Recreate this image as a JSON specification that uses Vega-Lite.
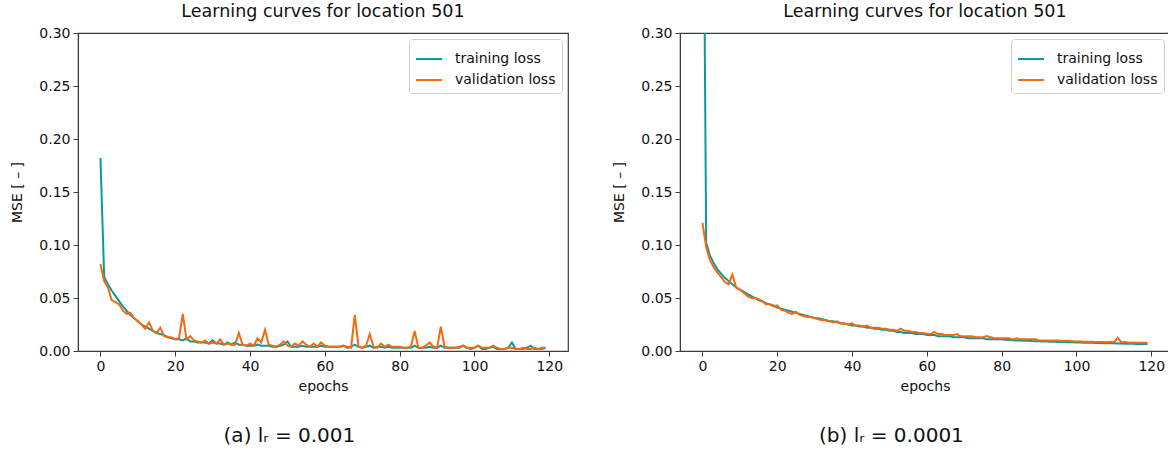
{
  "$schema": "https://vega.github.io/schema/vega-lite/v6.json",
  "background": "white",
  "padding": {"left": 10, "top": 1, "right": 0, "bottom": 0},
  "spacing": 43,
  "config": {
    "font": "DejaVu Sans",
    "view": {"stroke": "#3c3c3c", "strokeWidth": 1.2},
    "axis": {"labelFontSize": 14, "titleFontSize": 14, "titleFontWeight": "normal", "labelColor": "#111", "titleColor": "#111", "domainColor": "#3c3c3c", "tickColor": "#3c3c3c", "grid": false, "tickSize": 5, "labelPadding": 3, "labelFont": "DejaVu Sans", "titleFont": "DejaVu Sans"},
    "title": {"fontSize": 17.5, "fontWeight": "normal", "color": "#111", "font": "DejaVu Sans", "offset": 6},
    "legend": {"padding": 6, "strokeColor": "#d0d0d0", "fillColor": "white", "cornerRadius": 3, "labelFontSize": 14, "labelColor": "#111", "labelFont": "DejaVu Sans", "symbolType": "stroke", "symbolSize": 676, "symbolStrokeWidth": 2, "rowPadding": -4, "labelOffset": 12}
  },
  "datasets": {
    "a": [
      {"e":0,"tr":0.182,"va":0.082},{"e":1,"tr":0.070,"va":0.066},{"e":2,"tr":0.063,"va":0.060},{"e":3,"tr":0.057,"va":0.048},{"e":4,"tr":0.052,"va":0.046},
      {"e":5,"tr":0.047,"va":0.044},{"e":6,"tr":0.042,"va":0.038},{"e":7,"tr":0.038,"va":0.035},{"e":8,"tr":0.034,"va":0.036},{"e":9,"tr":0.031,"va":0.031},
      {"e":10,"tr":0.028,"va":0.028},{"e":11,"tr":0.025,"va":0.025},{"e":12,"tr":0.023,"va":0.021},{"e":13,"tr":0.021,"va":0.027},{"e":14,"tr":0.019,"va":0.019},
      {"e":15,"tr":0.017,"va":0.017},{"e":16,"tr":0.016,"va":0.022},{"e":17,"tr":0.015,"va":0.014},{"e":18,"tr":0.013,"va":0.013},{"e":19,"tr":0.012,"va":0.013},
      {"e":20,"tr":0.011,"va":0.011},{"e":21,"tr":0.011,"va":0.012},{"e":22,"tr":0.010,"va":0.035},{"e":23,"tr":0.012,"va":0.011},{"e":24,"tr":0.009,"va":0.014},
      {"e":25,"tr":0.009,"va":0.010},{"e":26,"tr":0.008,"va":0.009},{"e":27,"tr":0.008,"va":0.008},{"e":28,"tr":0.008,"va":0.010},{"e":29,"tr":0.007,"va":0.007},
      {"e":30,"tr":0.010,"va":0.008},{"e":31,"tr":0.007,"va":0.007},{"e":32,"tr":0.007,"va":0.011},{"e":33,"tr":0.006,"va":0.006},{"e":34,"tr":0.008,"va":0.007},
      {"e":35,"tr":0.006,"va":0.006},{"e":36,"tr":0.008,"va":0.006},{"e":37,"tr":0.006,"va":0.017},{"e":38,"tr":0.006,"va":0.006},{"e":39,"tr":0.005,"va":0.005},
      {"e":40,"tr":0.005,"va":0.007},{"e":41,"tr":0.005,"va":0.005},{"e":42,"tr":0.006,"va":0.012},{"e":43,"tr":0.005,"va":0.008},{"e":44,"tr":0.005,"va":0.020},
      {"e":45,"tr":0.005,"va":0.006},{"e":46,"tr":0.004,"va":0.005},{"e":47,"tr":0.004,"va":0.004},{"e":48,"tr":0.005,"va":0.006},{"e":49,"tr":0.006,"va":0.009},
      {"e":50,"tr":0.009,"va":0.005},{"e":51,"tr":0.004,"va":0.004},{"e":52,"tr":0.004,"va":0.007},{"e":53,"tr":0.004,"va":0.005},{"e":54,"tr":0.005,"va":0.009},
      {"e":55,"tr":0.004,"va":0.006},{"e":56,"tr":0.004,"va":0.004},{"e":57,"tr":0.004,"va":0.007},{"e":58,"tr":0.004,"va":0.004},{"e":59,"tr":0.005,"va":0.008},
      {"e":60,"tr":0.004,"va":0.005},{"e":61,"tr":0.004,"va":0.004},{"e":62,"tr":0.004,"va":0.004},{"e":63,"tr":0.004,"va":0.004},{"e":64,"tr":0.004,"va":0.004},
      {"e":65,"tr":0.005,"va":0.005},{"e":66,"tr":0.003,"va":0.004},{"e":67,"tr":0.004,"va":0.003},{"e":68,"tr":0.006,"va":0.034},{"e":69,"tr":0.004,"va":0.004},
      {"e":70,"tr":0.003,"va":0.003},{"e":71,"tr":0.004,"va":0.005},{"e":72,"tr":0.005,"va":0.016},{"e":73,"tr":0.003,"va":0.004},{"e":74,"tr":0.004,"va":0.003},
      {"e":75,"tr":0.004,"va":0.007},{"e":76,"tr":0.003,"va":0.004},{"e":77,"tr":0.004,"va":0.006},{"e":78,"tr":0.003,"va":0.004},{"e":79,"tr":0.003,"va":0.004},
      {"e":80,"tr":0.003,"va":0.004},{"e":81,"tr":0.003,"va":0.003},{"e":82,"tr":0.003,"va":0.003},{"e":83,"tr":0.003,"va":0.004},{"e":84,"tr":0.005,"va":0.019},
      {"e":85,"tr":0.003,"va":0.003},{"e":86,"tr":0.003,"va":0.003},{"e":87,"tr":0.003,"va":0.005},{"e":88,"tr":0.004,"va":0.008},{"e":89,"tr":0.003,"va":0.004},
      {"e":90,"tr":0.003,"va":0.003},{"e":91,"tr":0.005,"va":0.023},{"e":92,"tr":0.003,"va":0.004},{"e":93,"tr":0.003,"va":0.003},{"e":94,"tr":0.003,"va":0.003},
      {"e":95,"tr":0.003,"va":0.003},{"e":96,"tr":0.003,"va":0.004},{"e":97,"tr":0.005,"va":0.005},{"e":98,"tr":0.003,"va":0.003},{"e":99,"tr":0.002,"va":0.003},
      {"e":100,"tr":0.003,"va":0.003},{"e":101,"tr":0.005,"va":0.005},{"e":102,"tr":0.002,"va":0.003},{"e":103,"tr":0.002,"va":0.003},{"e":104,"tr":0.003,"va":0.003},
      {"e":105,"tr":0.004,"va":0.005},{"e":106,"tr":0.002,"va":0.003},{"e":107,"tr":0.002,"va":0.002},{"e":108,"tr":0.002,"va":0.002},{"e":109,"tr":0.003,"va":0.003},
      {"e":110,"tr":0.008,"va":0.003},{"e":111,"tr":0.002,"va":0.002},{"e":112,"tr":0.002,"va":0.002},{"e":113,"tr":0.002,"va":0.003},{"e":114,"tr":0.003,"va":0.002},
      {"e":115,"tr":0.005,"va":0.002},{"e":116,"tr":0.002,"va":0.003},{"e":117,"tr":0.002,"va":0.002},{"e":118,"tr":0.002,"va":0.003},{"e":119,"tr":0.003,"va":0.003}
    ],
    "b": [
      {"e":0,"tr":0.600,"va":0.121},{"e":1,"tr":0.102,"va":0.098},{"e":2,"tr":0.090,"va":0.086},{"e":3,"tr":0.083,"va":0.079},{"e":4,"tr":0.077,"va":0.074},
      {"e":5,"tr":0.073,"va":0.070},{"e":6,"tr":0.069,"va":0.065},{"e":7,"tr":0.066,"va":0.063},{"e":8,"tr":0.063,"va":0.072},{"e":9,"tr":0.060,"va":0.060},
      {"e":10,"tr":0.058,"va":0.058},{"e":11,"tr":0.056,"va":0.055},{"e":12,"tr":0.054,"va":0.052},{"e":13,"tr":0.052,"va":0.050},{"e":14,"tr":0.050,"va":0.050},
      {"e":15,"tr":0.048,"va":0.049},{"e":16,"tr":0.047,"va":0.047},{"e":17,"tr":0.045,"va":0.044},{"e":18,"tr":0.044,"va":0.044},{"e":19,"tr":0.043,"va":0.042},
      {"e":20,"tr":0.041,"va":0.043},{"e":21,"tr":0.040,"va":0.039},{"e":22,"tr":0.039,"va":0.038},{"e":23,"tr":0.038,"va":0.036},{"e":24,"tr":0.037,"va":0.035},
      {"e":25,"tr":0.036,"va":0.037},{"e":26,"tr":0.035,"va":0.034},{"e":27,"tr":0.034,"va":0.033},{"e":28,"tr":0.033,"va":0.032},{"e":29,"tr":0.032,"va":0.032},
      {"e":30,"tr":0.031,"va":0.031},{"e":31,"tr":0.031,"va":0.030},{"e":32,"tr":0.030,"va":0.029},{"e":33,"tr":0.029,"va":0.029},{"e":34,"tr":0.028,"va":0.028},
      {"e":35,"tr":0.028,"va":0.027},{"e":36,"tr":0.027,"va":0.028},{"e":37,"tr":0.026,"va":0.026},{"e":38,"tr":0.026,"va":0.026},{"e":39,"tr":0.025,"va":0.025},
      {"e":40,"tr":0.024,"va":0.026},{"e":41,"tr":0.024,"va":0.024},{"e":42,"tr":0.023,"va":0.024},{"e":43,"tr":0.023,"va":0.023},{"e":44,"tr":0.022,"va":0.024},
      {"e":45,"tr":0.022,"va":0.022},{"e":46,"tr":0.021,"va":0.022},{"e":47,"tr":0.021,"va":0.022},{"e":48,"tr":0.020,"va":0.021},{"e":49,"tr":0.020,"va":0.021},
      {"e":50,"tr":0.019,"va":0.020},{"e":51,"tr":0.019,"va":0.020},{"e":52,"tr":0.018,"va":0.019},{"e":53,"tr":0.018,"va":0.021},{"e":54,"tr":0.017,"va":0.019},
      {"e":55,"tr":0.017,"va":0.019},{"e":56,"tr":0.017,"va":0.018},{"e":57,"tr":0.016,"va":0.018},{"e":58,"tr":0.016,"va":0.017},{"e":59,"tr":0.016,"va":0.017},
      {"e":60,"tr":0.015,"va":0.016},{"e":61,"tr":0.015,"va":0.016},{"e":62,"tr":0.015,"va":0.018},{"e":63,"tr":0.014,"va":0.016},{"e":64,"tr":0.014,"va":0.016},
      {"e":65,"tr":0.014,"va":0.015},{"e":66,"tr":0.014,"va":0.015},{"e":67,"tr":0.013,"va":0.015},{"e":68,"tr":0.013,"va":0.016},{"e":69,"tr":0.013,"va":0.014},
      {"e":70,"tr":0.013,"va":0.014},{"e":71,"tr":0.012,"va":0.014},{"e":72,"tr":0.012,"va":0.014},{"e":73,"tr":0.012,"va":0.013},{"e":74,"tr":0.012,"va":0.013},
      {"e":75,"tr":0.012,"va":0.013},{"e":76,"tr":0.011,"va":0.014},{"e":77,"tr":0.011,"va":0.013},{"e":78,"tr":0.011,"va":0.012},{"e":79,"tr":0.011,"va":0.012},
      {"e":80,"tr":0.011,"va":0.012},{"e":81,"tr":0.0105,"va":0.012},{"e":82,"tr":0.0104,"va":0.012},{"e":83,"tr":0.0102,"va":0.011},{"e":84,"tr":0.0100,"va":0.012},
      {"e":85,"tr":0.0099,"va":0.011},{"e":86,"tr":0.0097,"va":0.011},{"e":87,"tr":0.0096,"va":0.011},{"e":88,"tr":0.0094,"va":0.011},{"e":89,"tr":0.0093,"va":0.011},
      {"e":90,"tr":0.0092,"va":0.010},{"e":91,"tr":0.0090,"va":0.010},{"e":92,"tr":0.0089,"va":0.010},{"e":93,"tr":0.0088,"va":0.010},{"e":94,"tr":0.0087,"va":0.010},
      {"e":95,"tr":0.0086,"va":0.0098},{"e":96,"tr":0.0085,"va":0.0096},{"e":97,"tr":0.0084,"va":0.0095},{"e":98,"tr":0.0083,"va":0.0094},{"e":99,"tr":0.0082,"va":0.0093},
      {"e":100,"tr":0.0081,"va":0.0090},{"e":101,"tr":0.0080,"va":0.0090},{"e":102,"tr":0.0079,"va":0.0088},{"e":103,"tr":0.0078,"va":0.0088},{"e":104,"tr":0.0077,"va":0.0087},
      {"e":105,"tr":0.0076,"va":0.0086},{"e":106,"tr":0.0075,"va":0.0085},{"e":107,"tr":0.0074,"va":0.0084},{"e":108,"tr":0.0073,"va":0.0083},{"e":109,"tr":0.0072,"va":0.0087},
      {"e":110,"tr":0.0072,"va":0.0082},{"e":111,"tr":0.0071,"va":0.0125},{"e":112,"tr":0.0070,"va":0.0083},{"e":113,"tr":0.0069,"va":0.0086},{"e":114,"tr":0.0069,"va":0.0079},
      {"e":115,"tr":0.0068,"va":0.0080},{"e":116,"tr":0.0067,"va":0.0078},{"e":117,"tr":0.0067,"va":0.0078},{"e":118,"tr":0.0066,"va":0.0077},{"e":119,"tr":0.0066,"va":0.0077}
    ]
  },
  "hconcat": [
    {
      "title": {"text": "(a)  lᵣ = 0.001", "orient": "bottom", "anchor": "middle", "fontSize": 20, "offset": 32, "font": "DejaVu Sans"},
      "resolve": {"legend": {"color": "independent"}},
      "vconcat": [
        {
          "width": 490, "height": 318,
          "title": "Learning curves for location 501",
          "data": {"name": "a"},
          "transform": [{"fold": ["tr", "va"], "as": ["series", "mse"]}],
          "mark": {"type": "line", "clip": true, "strokeWidth": 2},
          "encoding": {
            "x": {"field": "e", "type": "quantitative", "scale": {"domain": [-6, 125], "nice": false, "zero": false}, "axis": {"values": [0, 20, 40, 60, 80, 100, 120], "title": "epochs", "titlePadding": 6}},
            "y": {"field": "mse", "type": "quantitative", "scale": {"domain": [0, 0.3], "nice": false}, "axis": {"values": [0, 0.05, 0.1, 0.15, 0.2, 0.25, 0.3], "format": ".2f", "title": "MSE [ – ]", "titlePadding": 14}},
            "color": {"field": "series", "type": "nominal", "scale": {"domain": ["tr", "va"], "range": ["#0a9a9d", "#f36a10"]}, "legend": {"orient": "top-right", "offset": 6, "title": null, "labelExpr": "datum.label == 'tr' ? 'training loss' : 'validation loss'"}}
          }
        }
      ]
    },
    {
      "title": {"text": "(b)  lᵣ = 0.0001", "orient": "bottom", "anchor": "middle", "fontSize": 20, "offset": 32, "font": "DejaVu Sans"},
      "resolve": {"legend": {"color": "independent"}},
      "vconcat": [
        {
          "width": 490, "height": 318,
          "title": "Learning curves for location 501",
          "data": {"name": "b"},
          "transform": [{"fold": ["tr", "va"], "as": ["series", "mse"]}],
          "mark": {"type": "line", "clip": true, "strokeWidth": 2},
          "encoding": {
            "x": {"field": "e", "type": "quantitative", "scale": {"domain": [-6, 125], "nice": false, "zero": false}, "axis": {"values": [0, 20, 40, 60, 80, 100, 120], "title": "epochs", "titlePadding": 6}},
            "y": {"field": "mse", "type": "quantitative", "scale": {"domain": [0, 0.3], "nice": false}, "axis": {"values": [0, 0.05, 0.1, 0.15, 0.2, 0.25, 0.3], "format": ".2f", "title": "MSE [ – ]", "titlePadding": 14}},
            "color": {"field": "series", "type": "nominal", "scale": {"domain": ["tr", "va"], "range": ["#0a9a9d", "#f36a10"]}, "legend": {"orient": "top-right", "offset": 6, "title": null, "labelExpr": "datum.label == 'tr' ? 'training loss' : 'validation loss'"}}
          }
        }
      ]
    }
  ],
  "resolve": {"scale": {"color": "shared"}, "legend": {"color": "independent"}}
}
